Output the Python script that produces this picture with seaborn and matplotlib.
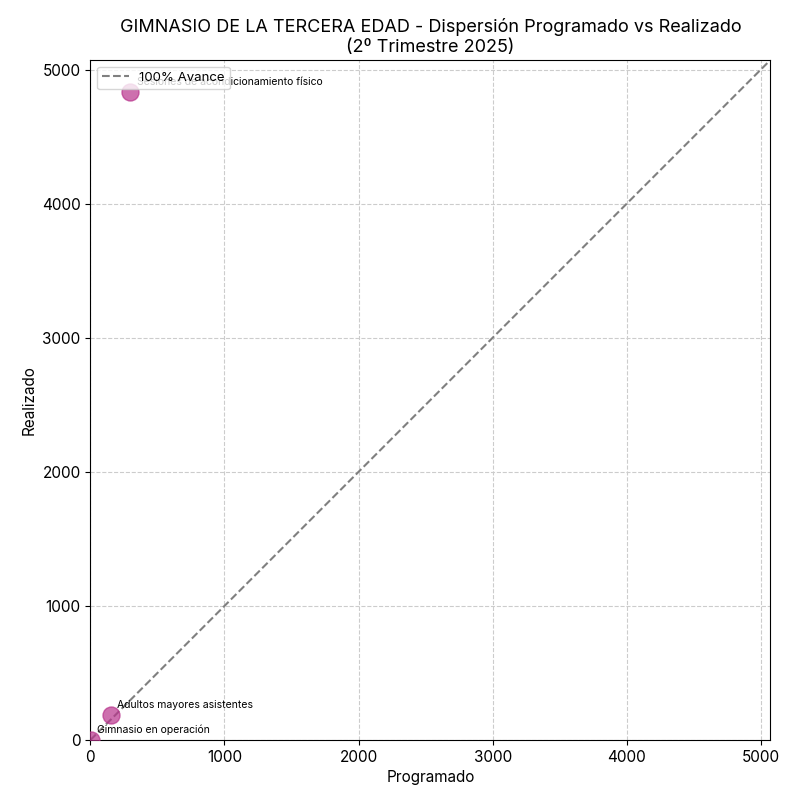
import matplotlib
matplotlib.use("Agg")
import matplotlib.pyplot as plt
import seaborn as sns
import pandas as pd

labels = ["Gimnasio en operación", "Adultos mayores asistentes", "Sesiones de acondicionamiento físico"]
programado = [1, 150, 295]
realizado = [1, 185, 4830]

sns.set_style("white")
plt.rcParams['font.family'] = ['Inter', 'DejaVu Sans']
plt.rcParams['text.color'] = 'black'
plt.rcParams['axes.labelcolor'] = 'black'
plt.rcParams['xtick.color'] = 'black'
plt.rcParams['ytick.color'] = 'black'

df = pd.DataFrame({"Programado": programado, "Realizado": realizado, "label": labels})
fig, ax = plt.subplots(figsize=(8, 8), dpi=100)
sns.scatterplot(data=df, x="Programado", y="Realizado", s=150, color="#b8338c", alpha=0.7,
                edgecolor="#b8338c", ax=ax, zorder=3)
lim = max(max(programado), max(realizado)) * 1.05
ax.plot([0, lim], [0, lim], ls="--", color="gray", lw=1.5, label="100% Avance")
for x, y, t in zip(programado, realizado, labels):
    ax.annotate(t, (x, y), xytext=(5, 5), textcoords="offset points", fontsize=7.5)
ax.set_xlim(0, lim)
ax.set_ylim(0, lim)
ax.grid(True, ls="--", color="#cccccc", lw=0.8)
for s in ax.spines.values():
    s.set_color("black")
ax.tick_params(labelsize=11, left=True, bottom=True)
ax.set_xlabel("Programado", fontsize=11)
ax.set_ylabel("Realizado", fontsize=11)
ax.set_title("GIMNASIO DE LA TERCERA EDAD - Dispersión Programado vs Realizado\n(2º Trimestre 2025)", fontsize=13)
ax.legend(loc="upper left", fontsize=9.5)
fig.subplots_adjust(left=0.113, right=0.963, bottom=0.075, top=0.925)
fig.savefig("out.png")
